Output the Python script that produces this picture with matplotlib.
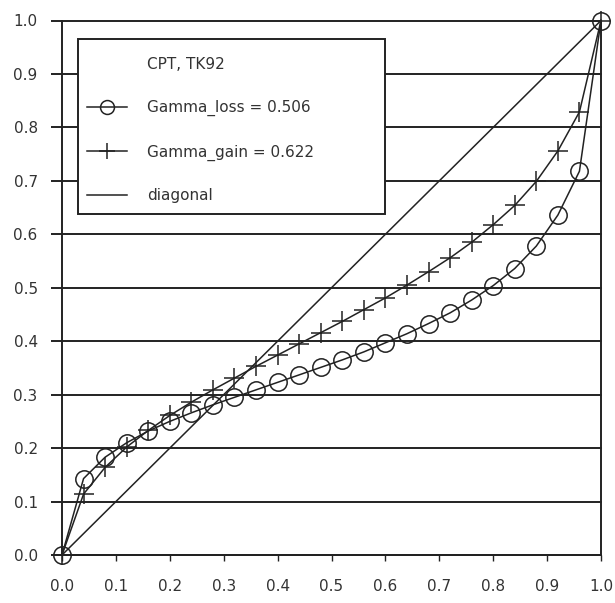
import matplotlib
matplotlib.use("Agg")
import matplotlib.pyplot as plt
from matplotlib.lines import Line2D
from matplotlib.patches import Rectangle

plt.rcParams['font.family'] = ['DejaVu Sans']

p = [0.00, 0.04, 0.08, 0.12, 0.16, 0.20, 0.24, 0.28, 0.32, 0.36, 0.40, 0.44, 0.48,
     0.52, 0.56, 0.60, 0.64, 0.68, 0.72, 0.76, 0.80, 0.84, 0.88, 0.92, 0.96, 1.00]
gamma_loss = [0.000, 0.143, 0.183, 0.210, 0.232, 0.250, 0.266, 0.281, 0.295, 0.309,
              0.323, 0.337, 0.351, 0.365, 0.380, 0.397, 0.414, 0.433, 0.453, 0.477,
              0.504, 0.536, 0.578, 0.636, 0.718, 1.000]
gamma_gain = [0.000, 0.114, 0.164, 0.202, 0.233, 0.261, 0.286, 0.309, 0.331, 0.353,
              0.374, 0.395, 0.416, 0.437, 0.459, 0.481, 0.505, 0.530, 0.556, 0.585,
              0.618, 0.654, 0.699, 0.756, 0.829, 1.000]
diag_x = [0.0, 1.0]
diag_y = [0.0, 1.0]

labels = ["Gamma_loss = 0.506", "Gamma_gain = 0.622", "diagonal"]
legend_title = "CPT, TK92"
xticks = [0.0, 0.1, 0.2, 0.3, 0.4, 0.5, 0.6, 0.7, 0.8, 0.9, 1.0]
yticks = [0.0, 0.1, 0.2, 0.3, 0.4, 0.5, 0.6, 0.7, 0.8, 0.9, 1.0]

ink = "#222222"
txt = "#333333"
fig = plt.figure(figsize=(6.15, 6.03), dpi=100)
ax = fig.add_axes([62/615, 1-555/603, 539/615, 534.5/603])

for y in yticks:
    ax.axhline(y, color=ink, lw=1.4, zorder=1, clip_on=False)

ax.plot(diag_x, diag_y, color=ink, lw=1.1, zorder=2, clip_on=False)
ax.plot(p, gamma_loss, color=ink, lw=1.1, marker='o', markersize=12.5,
        markerfacecolor='none', markeredgecolor=ink, markeredgewidth=1.1, zorder=3,
        clip_on=False)
ax.plot(p, gamma_gain, color=ink, lw=1.1, marker='+', markersize=14,
        markeredgecolor=ink, markeredgewidth=1.1, zorder=3, clip_on=False)

ax.set_xlim(0, 1)
ax.set_ylim(0, 1)
ax.set_xticks(xticks)
ax.set_yticks(yticks)
ax.set_xticklabels([f"{v:.1f}" for v in xticks])
ax.set_yticklabels([f"{v:.1f}" for v in yticks])
ax.tick_params(axis='y', length=8, width=1.4, color=ink, pad=9.5, labelsize=11, labelcolor=txt)
ax.tick_params(axis='x', length=4, width=1.0, color=ink, pad=13.5, labelsize=11, labelcolor=txt)
for s in ['left', 'right', 'bottom']:
    ax.spines[s].set_color(ink)
    ax.spines[s].set_linewidth(1.4)
ax.spines['top'].set_visible(False)

# legend frame
frame = Rectangle((0.0297, 0.638), 0.599 - 0.0297, 0.9654 - 0.638,
                  transform=ax.transAxes, facecolor='white', edgecolor=ink,
                  linewidth=1.4, zorder=4, clip_on=False)
ax.add_patch(frame)

handles = [
    Line2D([], [], linestyle='none', marker=None),
    Line2D([], [], color=ink, lw=1.1, marker='o', markersize=10, markerfacecolor='none',
           markeredgecolor=ink, markeredgewidth=1.1),
    Line2D([], [], color=ink, lw=1.1, marker='+', markersize=11, markeredgecolor=ink,
           markeredgewidth=1.1),
    Line2D([], [], color=ink, lw=1.1),
]
leg = ax.legend(handles, [legend_title] + labels, loc='upper left',
                bbox_to_anchor=(0.0464, 0.9308), frameon=False,
                fontsize=11, labelspacing=1.82, handlelength=2.62, handletextpad=1.31,
                borderpad=0, borderaxespad=0)
for t in leg.get_texts():
    t.set_color(txt)
leg.set_zorder(5)

fig.savefig("out.png", dpi=100)
